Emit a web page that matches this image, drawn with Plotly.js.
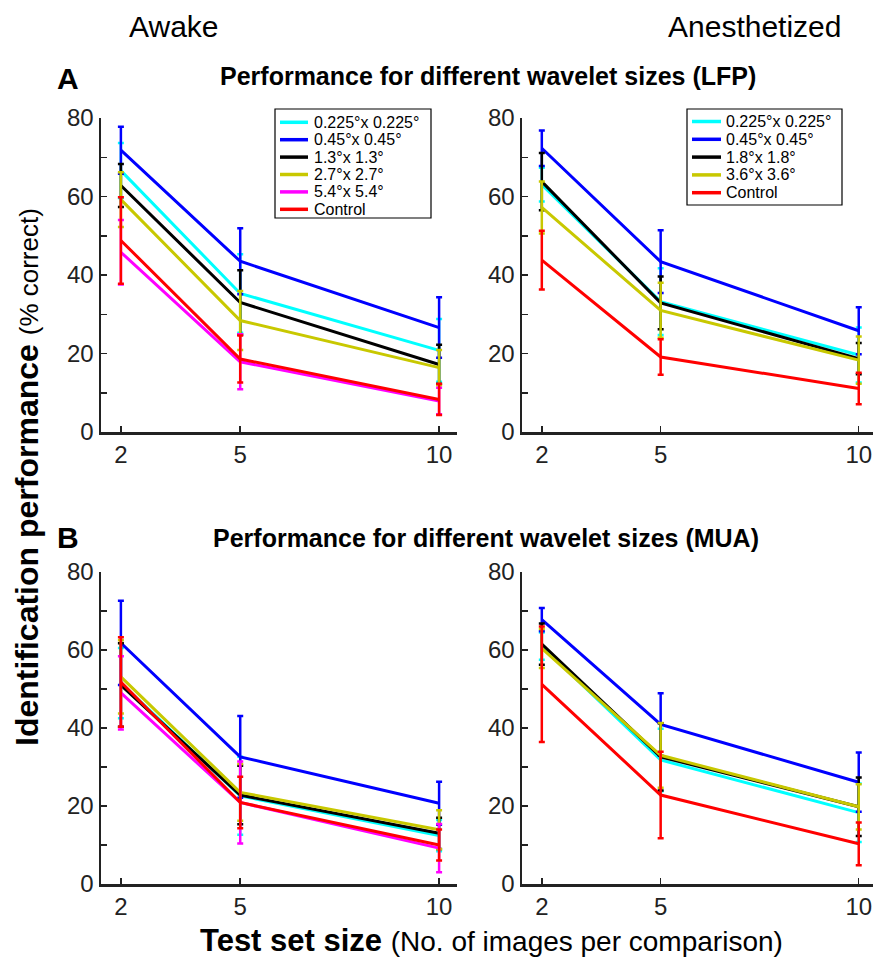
<!DOCTYPE html>
<html>
<head>
<meta charset="utf-8">
<script src="https://cdn.plot.ly/plotly-3.0.1.min.js"></script>
<style>html,body{margin:0;padding:0;background:#fff;}#chart{width:873px;height:959px;}</style>
</head>
<body>
<div id="chart"></div>
<script>
// ---- data ----
const testSizes = [2, 5, 10];

const awakeLabels = ["0.225°x 0.225°", "0.45°x 0.45°", "1.3°x 1.3°", "2.7°x 2.7°", "5.4°x 5.4°", "Control"];
const anesLabels  = ["0.225°x 0.225°", "0.45°x 0.45°", "1.8°x 1.8°", "3.6°x 3.6°", "Control"];
const awakeColors = ["#00ffff", "#0000ff", "#000000", "#c8c800", "#ff00ff", "#ff0000"];
const anesColors  = ["#00ffff", "#0000ff", "#000000", "#c8c800", "#ff0000"];

// LFP, awake
const lfpAwakeMean = [
  [66.6, 35.3, 20.8],
  [71.8, 43.5, 26.6],
  [62.8, 33.0, 17.2],
  [59.2, 28.4, 16.4],
  [45.8, 17.9, 7.9],
  [48.8, 18.6, 8.3]
];
const lfpAwakeErr = [
  [7.0, 10.0, 8.0],
  [6.0, 8.4, 7.7],
  [5.5, 8.2, 5.0],
  [7.0, 7.5, 4.5],
  [8.2, 7.0, 3.4],
  [11.0, 6.0, 4.0]
];
// LFP, anesthetized
const lfpAnesMean = [
  [63.0, 33.2, 19.6],
  [72.3, 43.4, 25.8],
  [63.8, 32.9, 18.7],
  [57.2, 31.0, 18.3],
  [43.8, 19.1, 11.1]
];
const lfpAnesErr = [
  [4.3, 8.5, 7.0],
  [4.5, 8.0, 6.0],
  [7.3, 6.7, 4.0],
  [6.6, 7.0, 6.0],
  [7.5, 4.5, 4.0]
];
// MUA, awake
const muaAwakeMean = [
  [51.5, 22.6, 12.4],
  [61.8, 32.6, 20.7],
  [51.0, 22.8, 13.0],
  [53.1, 23.5, 13.9],
  [49.0, 20.9, 9.2],
  [51.8, 20.9, 10.0]
];
const muaAwakeErr = [
  [9.0, 10.0, 4.0],
  [10.8, 10.5, 5.5],
  [10.7, 7.5, 4.0],
  [9.4, 7.3, 5.0],
  [9.4, 10.5, 6.2],
  [11.5, 6.6, 4.0]
];
// MUA, anesthetized
const muaAnesMean = [
  [61.0, 31.8, 18.3],
  [67.8, 40.9, 26.1],
  [61.5, 32.6, 19.8],
  [60.4, 33.0, 19.8],
  [51.2, 22.8, 10.3]
];
const muaAnesErr = [
  [3.5, 8.0, 7.5],
  [3.0, 8.0, 7.6],
  [5.3, 8.6, 7.5],
  [5.0, 8.3, 5.8],
  [14.8, 11.1, 5.5]
];

const yTickVals = [0, 10, 20, 30, 40, 50, 60, 70, 80];
const yTickText = ["0", "", "20", "", "40", "", "60", "", "80"];

// ---- build ----
const W = 873, H = 959;
const FONT = "Liberation Sans, Arial, sans-serif";
const px = v => v / W;
const py = v => 1 - v / H;

const traces = [];
function addPanel(means, errs, colors, labels, ax) {
  means.forEach((m, i) => {
    traces.push({
      type: "scatter", mode: "lines",
      x: testSizes, y: m, name: labels[i],
      xaxis: "x" + ax, yaxis: "y" + ax,
      line: {color: colors[i], width: 3},
      error_y: {type: "data", array: errs[i], visible: true, color: colors[i], thickness: 2.5, width: 3},
      showlegend: false, hoverinfo: "skip"
    });
  });
}
addPanel(lfpAwakeMean, lfpAwakeErr, awakeColors, awakeLabels, "");
addPanel(lfpAnesMean, lfpAnesErr, anesColors, anesLabels, "2");
addPanel(muaAwakeMean, muaAwakeErr, awakeColors, awakeLabels, "3");
addPanel(muaAnesMean, muaAnesErr, anesColors, anesLabels, "4");

const axCommon = {
  showline: true, linecolor: "#222222", linewidth: 2.5,
  ticks: "inside", ticklen: 6, tickwidth: 1.5, tickcolor: "#222222",
  showgrid: false, zeroline: false, fixedrange: true,
  tickfont: {family: FONT, size: 24, color: "#222222"}
};
function xa(domain, range, anchor) {
  return Object.assign({}, axCommon, {domain, range, anchor, tickmode: "array", tickvals: testSizes, ticktext: testSizes.map(String)});
}
function ya(domain, anchor) {
  return Object.assign({}, axCommon, {domain, range: [0, 80], anchor, tickmode: "array", tickvals: yTickVals, ticktext: yTickText});
}

const xL = [px(101), px(457)], xR = [px(522), 1];
const yT = [py(432), py(118)], yB = [py(884), py(572)];

const layout = {
  width: W, height: H,
  margin: {l: 0, r: 0, t: 0, b: 0, autoexpand: false},
  paper_bgcolor: "#ffffff", plot_bgcolor: "rgba(0,0,0,0)",
  showlegend: false,
  xaxis: xa(xL, [1.5, 10.45], "y"),
  yaxis: ya(yT, "x"),
  xaxis2: xa(xR, [1.5, 10.36], "y2"),
  yaxis2: ya(yT, "x2"),
  xaxis3: xa(xL, [1.5, 10.45], "y3"),
  yaxis3: ya(yB, "x3"),
  xaxis4: xa(xR, [1.5, 10.36], "y4"),
  yaxis4: ya(yB, "x4"),
  shapes: [],
  annotations: []
};

function ann(x, y, text, size, opts) {
  layout.annotations.push(Object.assign({
    xref: "paper", yref: "paper", x: px(x), y: py(y), text: text, showarrow: false,
    font: {family: FONT, size: size, color: "#000"}, xanchor: "center", yanchor: "middle"
  }, opts || {}));
}

// headings
ann(127, 27, "Awake", 30, {xanchor: "left"});
ann(843, 27, "Anesthetized", 30, {xanchor: "right"});
ann(68, 78, "<b>A</b>", 30);
ann(68, 537, "<b>B</b>", 30);
ann(488, 76, "<b>Performance for different wavelet sizes (LFP)</b>", 25);
ann(486, 538, "<b>Performance for different wavelet sizes (MUA)</b>", 25);
ann(27, 477, "<b>Identification performance</b> <span style=\"font-size:26px\">(% correct)</span>", 32, {textangle: -90});
ann(491, 940, "<b>Test set size</b> <span style=\"font-size:28px\">(No. of images per comparison)</span>", 31);

// manual legends built from labels and colours
function legendBox(labels, colors, box, row0, rowStep, lineX0, lineX1, textX) {
  layout.shapes.push({type: "rect", xref: "paper", yref: "paper",
    x0: px(box[0]), x1: px(box[2]), y0: py(box[3]), y1: py(box[1]),
    line: {color: "#000", width: 1.2}, fillcolor: "#fff", layer: "above"});
  labels.forEach((lab, i) => {
    const yy = row0 + i * rowStep;
    layout.shapes.push({type: "line", xref: "paper", yref: "paper",
      x0: px(lineX0), x1: px(lineX1), y0: py(yy), y1: py(yy),
      line: {color: colors[i], width: 3.5}, layer: "above"});
    ann(textX, yy, lab, 16, {xanchor: "left", height: 15, borderpad: 0, valign: "middle"});
  });
}
legendBox(awakeLabels, awakeColors, [275, 109, 431, 218], 122.3, 17.4, 280, 308, 313);
legendBox(anesLabels, anesColors, [687, 109, 842, 205], 121.5, 17.8, 692, 721, 725);

Plotly.newPlot("chart", traces, layout, {displayModeBar: false, staticPlot: true});
</script>
</body>
</html>
